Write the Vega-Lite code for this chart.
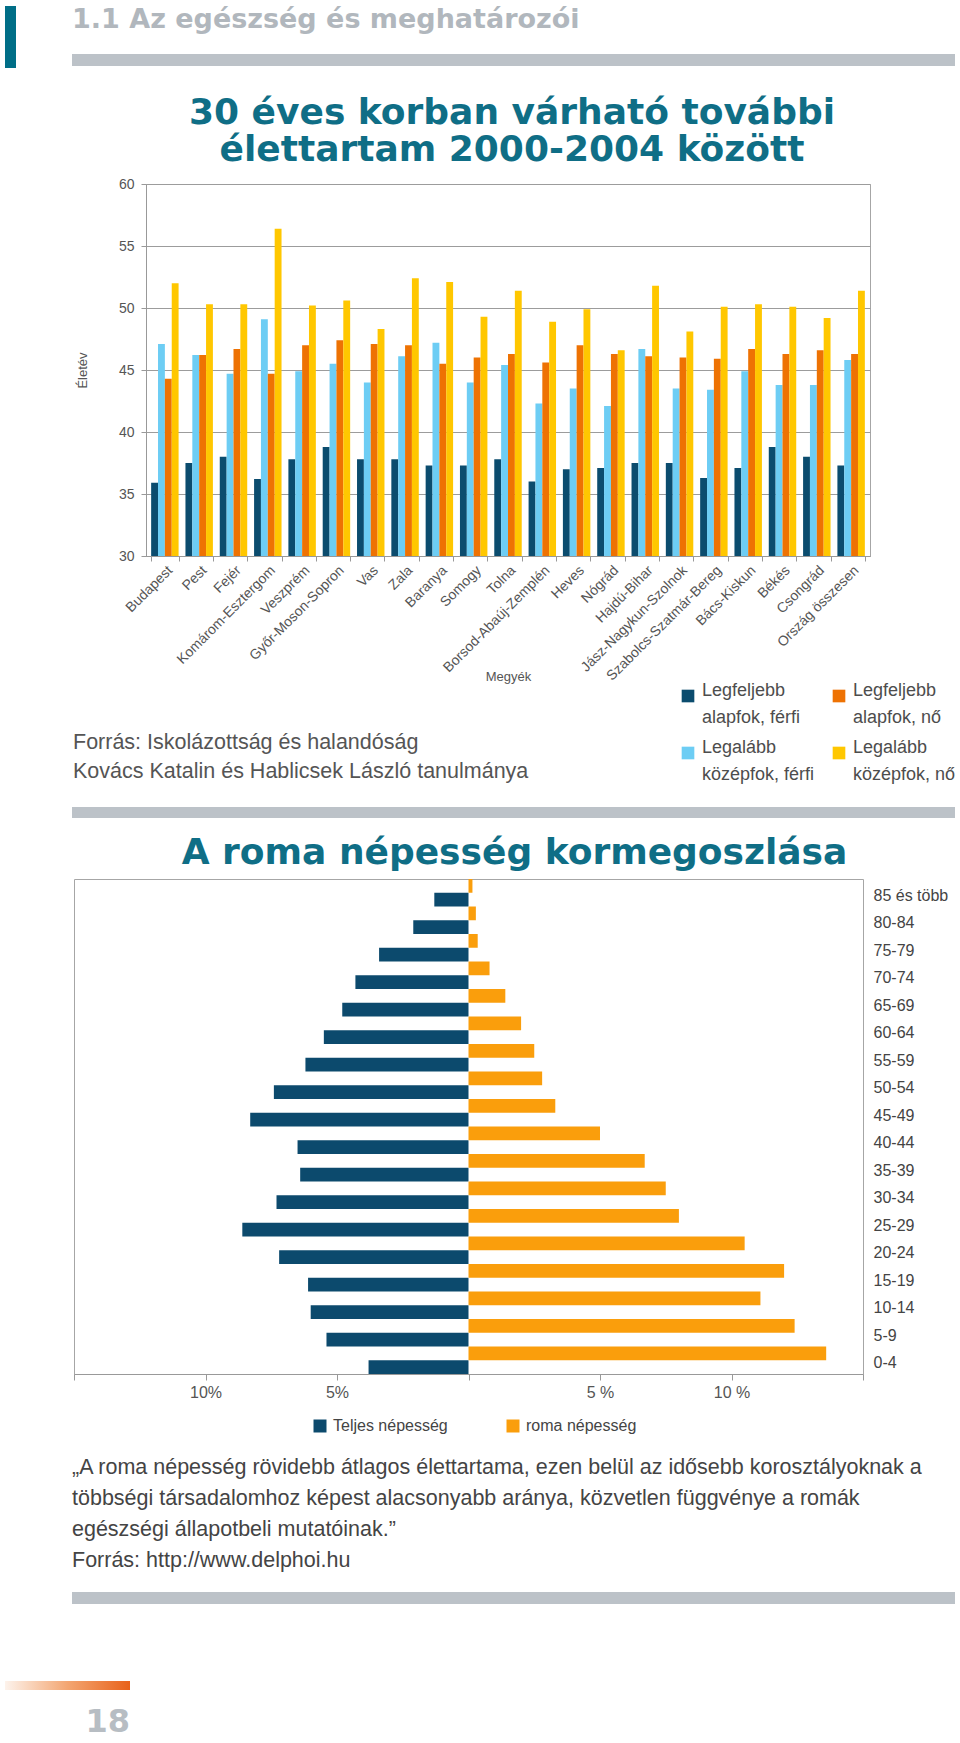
{
  "$schema": "https://vega.github.io/schema/vega-lite/v6.json",
  "padding": {"left": 5, "top": 6, "right": 5, "bottom": 5},
  "background": "white",
  "spacing": 0,
  "resolve": {"scale": {"color": "independent"}, "legend": {"color": "independent"}},
  "config": {
    "view": {"stroke": null},
    "font": "Liberation Sans",
    "concat": {"spacing": 0},
    "style": {"guide-label": {"lineHeight": 27}}
  },
  "vconcat": [
    {
      "hconcat": [
        {"width": 11, "height": 62, "data": {"values": [{}]}, "mark": {"type": "rect", "color": "#006e87"}, "encoding": {}},
        {"width": 56, "height": 1, "data": {"values": []}, "mark": "point", "encoding": {}},
        {"vconcat": [
          {
            "width": 883, "height": 1,
            "title": {"text": "1.1 Az egészség és meghatározói", "orient": "bottom", "anchor": "start", "frame": "group", "font": "DejaVu Sans", "fontSize": 27, "fontWeight": "bold", "color": "#b1b7bd", "offset": 0},
            "data": {"values": []}, "mark": "point", "encoding": {}
          },
          {"width": 1, "height": 21, "data": {"values": []}, "mark": "point", "encoding": {}},
          {"width": 883, "height": 12, "data": {"values": [{}]}, "mark": {"type": "rect", "color": "#bcc2c8"}, "encoding": {}}
        ], "spacing": 0}
      ],
      "spacing": 0
    },
    {"width": 1, "height": 26, "data": {"values": []}, "mark": "point", "encoding": {}},
    {
      "hconcat": [
        {"width": 70, "height": 1, "data": {"values": []}, "mark": "point", "encoding": {}},
        {
          "width": 724, "height": 372,
          "title": {"text": ["30 éves korban várható további", "élettartam 2000-2004 között"], "anchor": "middle", "frame": "group", "font": "DejaVu Sans", "fontSize": 36, "fontWeight": "bold", "color": "#0f6e86", "lineHeight": 37, "offset": 8, "dx": 4},
          "view": {"stroke": "#a6a6a6"},
          "data": {"values": [
            {"m": "Budapest", "Legfeljebb alapfok, férfi": 35.9, "Legalább középfok, férfi": 47.1, "Legfeljebb alapfok, nő": 44.3, "Legalább középfok, nő": 52.0},
            {"m": "Pest", "Legfeljebb alapfok, férfi": 37.5, "Legalább középfok, férfi": 46.2, "Legfeljebb alapfok, nő": 46.2, "Legalább középfok, nő": 50.3},
            {"m": "Fejér", "Legfeljebb alapfok, férfi": 38.0, "Legalább középfok, férfi": 44.7, "Legfeljebb alapfok, nő": 46.7, "Legalább középfok, nő": 50.3},
            {"m": "Komárom-Esztergom", "Legfeljebb alapfok, férfi": 36.2, "Legalább középfok, férfi": 49.1, "Legfeljebb alapfok, nő": 44.7, "Legalább középfok, nő": 56.4},
            {"m": "Veszprém", "Legfeljebb alapfok, férfi": 37.8, "Legalább középfok, férfi": 44.9, "Legfeljebb alapfok, nő": 47.0, "Legalább középfok, nő": 50.2},
            {"m": "Győr-Moson-Sopron", "Legfeljebb alapfok, férfi": 38.8, "Legalább középfok, férfi": 45.5, "Legfeljebb alapfok, nő": 47.4, "Legalább középfok, nő": 50.6},
            {"m": "Vas", "Legfeljebb alapfok, férfi": 37.8, "Legalább középfok, férfi": 44.0, "Legfeljebb alapfok, nő": 47.1, "Legalább középfok, nő": 48.3},
            {"m": "Zala", "Legfeljebb alapfok, férfi": 37.8, "Legalább középfok, férfi": 46.1, "Legfeljebb alapfok, nő": 47.0, "Legalább középfok, nő": 52.4},
            {"m": "Baranya", "Legfeljebb alapfok, férfi": 37.3, "Legalább középfok, férfi": 47.2, "Legfeljebb alapfok, nő": 45.5, "Legalább középfok, nő": 52.1},
            {"m": "Somogy", "Legfeljebb alapfok, férfi": 37.3, "Legalább középfok, férfi": 44.0, "Legfeljebb alapfok, nő": 46.0, "Legalább középfok, nő": 49.3},
            {"m": "Tolna", "Legfeljebb alapfok, férfi": 37.8, "Legalább középfok, férfi": 45.4, "Legfeljebb alapfok, nő": 46.3, "Legalább középfok, nő": 51.4},
            {"m": "Borsod-Abaúj-Zemplén", "Legfeljebb alapfok, férfi": 36.0, "Legalább középfok, férfi": 42.3, "Legfeljebb alapfok, nő": 45.6, "Legalább középfok, nő": 48.9},
            {"m": "Heves", "Legfeljebb alapfok, férfi": 37.0, "Legalább középfok, férfi": 43.5, "Legfeljebb alapfok, nő": 47.0, "Legalább középfok, nő": 49.9},
            {"m": "Nógrád", "Legfeljebb alapfok, férfi": 37.1, "Legalább középfok, férfi": 42.1, "Legfeljebb alapfok, nő": 46.3, "Legalább középfok, nő": 46.6},
            {"m": "Hajdú-Bihar", "Legfeljebb alapfok, férfi": 37.5, "Legalább középfok, férfi": 46.7, "Legfeljebb alapfok, nő": 46.1, "Legalább középfok, nő": 51.8},
            {"m": "Jász-Nagykun-Szolnok", "Legfeljebb alapfok, férfi": 37.5, "Legalább középfok, férfi": 43.5, "Legfeljebb alapfok, nő": 46.0, "Legalább középfok, nő": 48.1},
            {"m": "Szabolcs-Szatmár-Bereg", "Legfeljebb alapfok, férfi": 36.3, "Legalább középfok, férfi": 43.4, "Legfeljebb alapfok, nő": 45.9, "Legalább középfok, nő": 50.1},
            {"m": "Bács-Kiskun", "Legfeljebb alapfok, férfi": 37.1, "Legalább középfok, férfi": 44.9, "Legfeljebb alapfok, nő": 46.7, "Legalább középfok, nő": 50.3},
            {"m": "Békés", "Legfeljebb alapfok, férfi": 38.8, "Legalább középfok, férfi": 43.8, "Legfeljebb alapfok, nő": 46.3, "Legalább középfok, nő": 50.1},
            {"m": "Csongrád", "Legfeljebb alapfok, férfi": 38.0, "Legalább középfok, férfi": 43.8, "Legfeljebb alapfok, nő": 46.6, "Legalább középfok, nő": 49.2},
            {"m": "Ország összesen", "Legfeljebb alapfok, férfi": 37.3, "Legalább középfok, férfi": 45.8, "Legfeljebb alapfok, nő": 46.3, "Legalább középfok, nő": 51.4}
          ]},
          "transform": [{"fold": ["Legfeljebb alapfok, férfi", "Legalább középfok, férfi", "Legfeljebb alapfok, nő", "Legalább középfok, nő"], "as": ["s", "v"]}],
          "mark": {"type": "bar", "clip": true},
          "encoding": {
            "x": {
              "field": "m", "type": "nominal", "sort": null, "title": "Megyék",
              "scale": {"paddingInner": 0.2, "paddingOuter": 0.15},
              "axis": {"labelAngle": -45, "labelAlign": "right", "labelBaseline": "top", "labelFontSize": 14, "labelColor": "#555555", "labelPadding": 2, "labelLimit": 250, "tickBand": "extent", "tickSize": 5, "tickColor": "#999999", "domainColor": "#999999", "titleFontSize": 13, "titleFontWeight": "normal", "titleColor": "#555555", "maxExtent": 110, "minExtent": 110, "titlePadding": 4}
            },
            "xOffset": {"field": "s", "sort": ["Legfeljebb alapfok, férfi", "Legalább középfok, férfi", "Legfeljebb alapfok, nő", "Legalább középfok, nő"], "scale": {"paddingInner": 0, "paddingOuter": 0}},
            "y": {
              "field": "v", "type": "quantitative", "title": "Életév",
              "scale": {"domain": [30, 60], "zero": false},
              "axis": {"values": [30, 35, 40, 45, 50, 55, 60], "grid": true, "gridColor": "#9c9c9c", "tickSize": 5, "tickColor": "#999999", "domainColor": "#999999", "labelFontSize": 14, "labelColor": "#555555", "labelPadding": 7, "titleFontSize": 13, "titleFontWeight": "normal", "titleColor": "#555555", "titlePadding": 29}
            },
            "color": {
              "field": "s", "type": "nominal",
              "scale": {"domain": ["Legfeljebb alapfok, férfi", "Legfeljebb alapfok, nő", "Legalább középfok, férfi", "Legalább középfok, nő"], "range": ["#0b4c6e", "#ee7203", "#6dcdf4", "#ffc700"]},
              "legend": {"orient": "none", "legendX": 533, "legendY": 503, "direction": "horizontal", "columns": 2, "title": null, "symbolType": "square", "symbolSize": 160, "symbolStrokeWidth": 0, "labelFontSize": 18, "labelColor": "#4d4d4d", "labelBaseline": "alphabetic", "labelOffset": 5, "columnPadding": 15, "rowPadding": 12, "labelLimit": 300,
                "labelExpr": "[substring(datum.label, 0, indexof(datum.label, ' ')), substring(datum.label, indexof(datum.label, ' ') + 1)]"}
            }
          }
        }
      ],
      "spacing": 0,
      "resolve": {"scale": {"color": "independent"}, "legend": {"color": "independent"}},
      "title": {"text": ["Forrás: Iskolázottság és halandóság", "Kovács Katalin és Hablicsek László tanulmánya"], "orient": "bottom", "anchor": "start", "dx": 68, "offset": -53, "font": "Liberation Sans", "fontSize": 21.5, "fontWeight": "normal", "lineHeight": 29, "color": "#555555"}
    },
    {"width": 1, "height": 22, "data": {"values": []}, "mark": "point", "encoding": {}},
    {
      "hconcat": [
        {"width": 67, "height": 1, "data": {"values": []}, "mark": "point", "encoding": {}},
        {"width": 883, "height": 11, "data": {"values": [{}]}, "mark": {"type": "rect", "color": "#bcc2c8"}, "encoding": {}}
      ],
      "spacing": 0
    },
    {"width": 1, "height": 16, "data": {"values": []}, "mark": "point", "encoding": {}},
    {
      "hconcat": [
        {"width": 68, "height": 1, "data": {"values": []}, "mark": "point", "encoding": {}},
        {
          "width": 789, "height": 495,
          "title": {"text": "A roma népesség kormegoszlása", "anchor": "middle", "frame": "group", "dx": 46, "font": "DejaVu Sans", "fontSize": 36, "fontWeight": "bold", "color": "#0f6e86", "offset": 7},
          "view": {"stroke": "#a6a6a6"},
          "data": {"values": [
            {"age": "85 és több", "Teljes népesség": -1.3, "roma népesség": 0.15},
            {"age": "80-84", "Teljes népesség": -2.1, "roma népesség": 0.28},
            {"age": "75-79", "Teljes népesség": -3.4, "roma népesség": 0.35},
            {"age": "70-74", "Teljes népesség": -4.3, "roma népesség": 0.8},
            {"age": "65-69", "Teljes népesség": -4.8, "roma népesség": 1.4},
            {"age": "60-64", "Teljes népesség": -5.5, "roma népesség": 2.0},
            {"age": "55-59", "Teljes népesség": -6.2, "roma népesség": 2.5},
            {"age": "50-54", "Teljes népesség": -7.4, "roma népesség": 2.8},
            {"age": "45-49", "Teljes népesség": -8.3, "roma népesség": 3.3},
            {"age": "40-44", "Teljes népesség": -6.5, "roma népesség": 5.0},
            {"age": "35-39", "Teljes népesség": -6.4, "roma népesség": 6.7},
            {"age": "30-34", "Teljes népesség": -7.3, "roma népesség": 7.5},
            {"age": "25-29", "Teljes népesség": -8.6, "roma népesség": 8.0},
            {"age": "20-24", "Teljes népesség": -7.2, "roma népesség": 10.5},
            {"age": "15-19", "Teljes népesség": -6.1, "roma népesség": 12.0},
            {"age": "10-14", "Teljes népesség": -6.0, "roma népesség": 11.1},
            {"age": "5-9", "Teljes népesség": -5.4, "roma népesség": 12.4},
            {"age": "0-4", "Teljes népesség": -3.8, "roma népesség": 13.6}
          ]},
          "transform": [{"fold": ["Teljes népesség", "roma népesség"], "as": ["s", "v"]}],
          "mark": {"type": "bar"},
          "encoding": {
            "y": {"field": "age", "type": "nominal", "sort": null, "title": null,
              "scale": {"paddingInner": 0, "paddingOuter": 0},
              "axis": {"orient": "right", "ticks": false, "domain": false, "labelFontSize": 16, "labelColor": "#444444", "labelPadding": 10, "labelAlign": "left", "labelBaseline": "middle", "labelOffset": 3}},
            "yOffset": {"field": "s", "sort": ["roma népesség", "Teljes népesség"], "scale": {"paddingInner": 0, "paddingOuter": 0}},
            "x": {"field": "v", "type": "quantitative", "title": null,
              "scale": {"domain": [-15, 15]},
              "axis": {"values": [-15, -10, -5, 0, 5, 10, 15], "grid": false, "tickSize": 6, "tickColor": "#999999", "domainColor": "#999999", "labelFontSize": 16, "labelColor": "#555555", "labelPadding": 4,
                "labelExpr": "datum.value == 0 || abs(datum.value) == 15 ? '' : (datum.value < 0 ? format(-datum.value, 'd') + '%' : format(datum.value, 'd') + ' %')"}},
            "color": {"field": "s", "type": "nominal",
              "scale": {"domain": ["Teljes népesség", "roma népesség"], "range": ["#0c4a6d", "#fa9e0c"]},
              "legend": {"orient": "none", "legendX": 238, "legendY": 539, "direction": "horizontal", "title": null, "symbolType": "square", "symbolSize": 169, "symbolStrokeWidth": 0, "labelFontSize": 16, "labelColor": "#444444", "labelOffset": 5, "columnPadding": 57}}
          }
        }
      ],
      "spacing": 0,
      "resolve": {"scale": {"color": "independent"}, "legend": {"color": "independent"}},
      "title": {"text": ["„A roma népesség rövidebb átlagos élettartama, ezen belül az idősebb korosztályoknak a", "többségi társadalomhoz képest alacsonyabb aránya, közvetlen függvénye a romák", "egészségi állapotbeli mutatóinak.”", "Forrás:  http://www.delphoi.hu"], "orient": "bottom", "anchor": "start", "dx": 67, "offset": 22, "font": "Liberation Sans", "fontSize": 21.5, "fontWeight": "normal", "lineHeight": 31, "color": "#444444"}
    },
    {"width": 1, "height": 21, "data": {"values": []}, "mark": "point", "encoding": {}},
    {
      "hconcat": [
        {"width": 67, "height": 1, "data": {"values": []}, "mark": "point", "encoding": {}},
        {"width": 883, "height": 12, "data": {"values": [{}]}, "mark": {"type": "rect", "color": "#bcc2c8"}, "encoding": {}}
      ],
      "spacing": 0
    },
    {"width": 1, "height": 77, "data": {"values": []}, "mark": "point", "encoding": {}},
    {
      "width": 125, "height": 9,
      "title": {"text": "18", "orient": "bottom", "anchor": "end", "frame": "group", "font": "DejaVu Sans", "fontSize": 32, "fontWeight": "bold", "color": "#b7bdc3", "offset": 17},
      "data": {"values": [{}]},
      "mark": {"type": "rect", "fill": {"gradient": "linear", "x1": 0, "x2": 1, "y1": 0, "y2": 0, "stops": [{"offset": 0, "color": "#fdf3ec"}, {"offset": 0.5, "color": "#f3a672"}, {"offset": 1, "color": "#e8621a"}]}},
      "encoding": {}
    }
  ]
}
